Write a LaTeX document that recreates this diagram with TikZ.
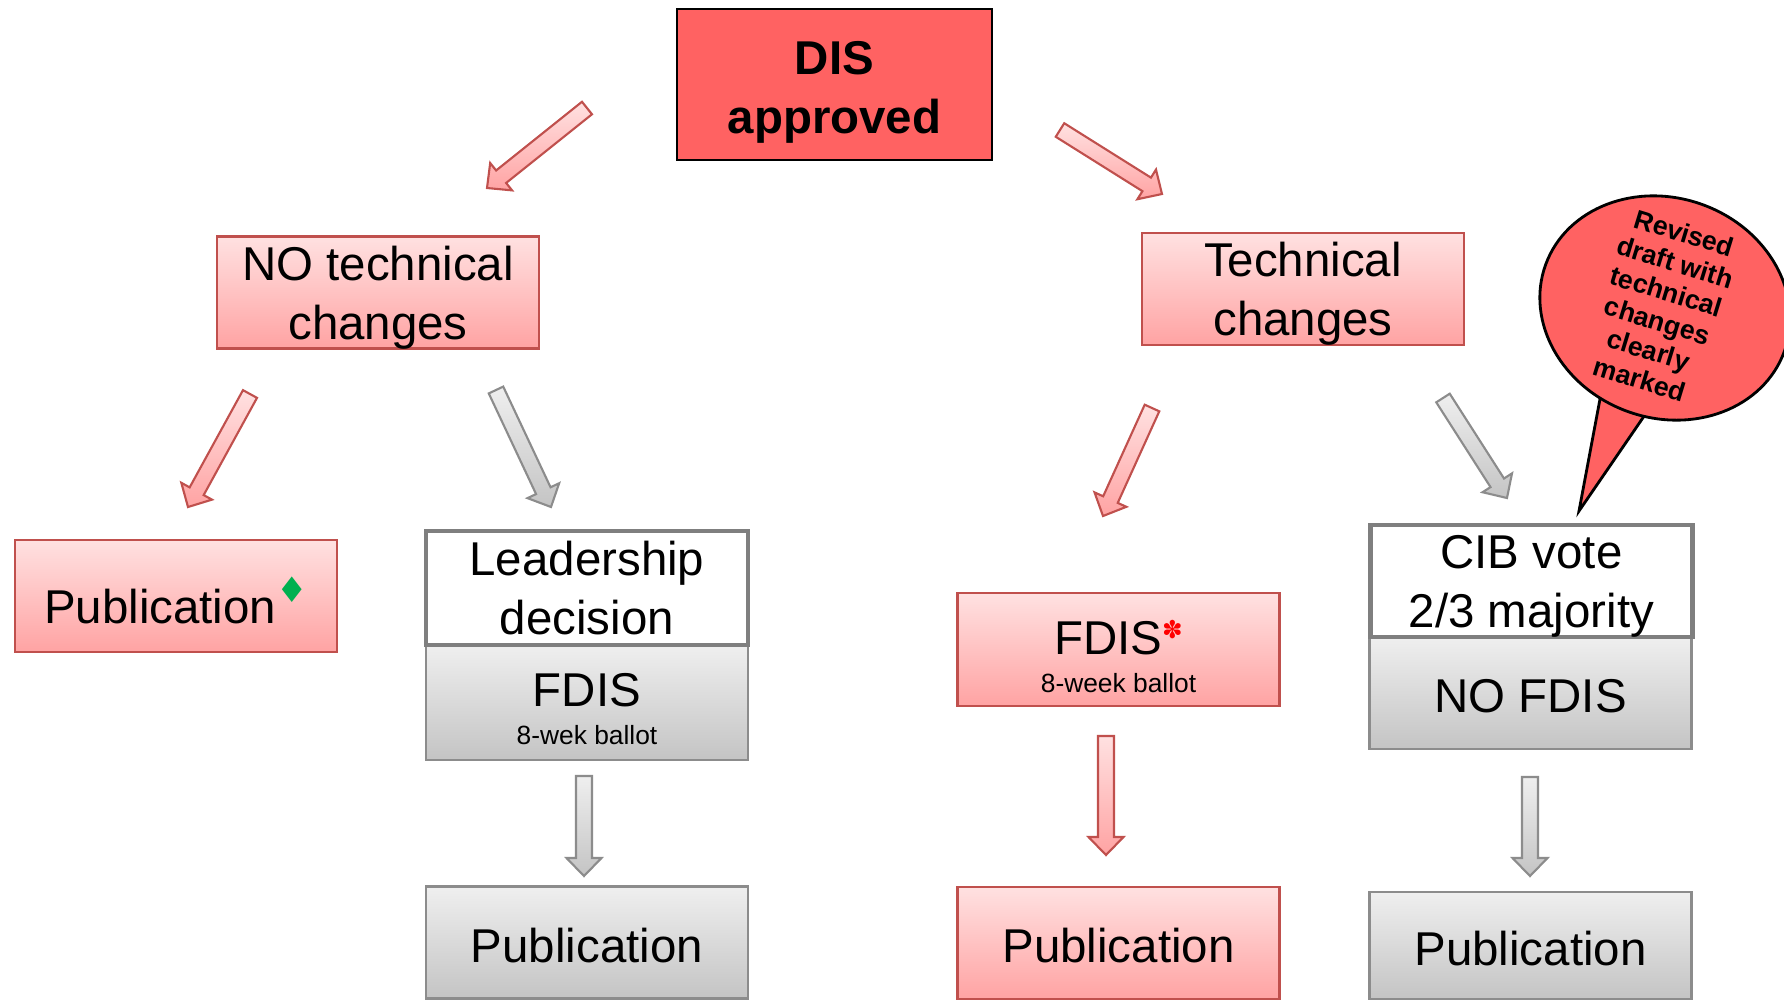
\documentclass[tikz,border=0pt]{standalone}
\usepackage{fontspec}
\setmainfont{Liberation Sans}
\newfontfamily\symfont{DejaVu Sans}
\usetikzlibrary{calc,shapes.geometric}
\definecolor{boxred}{HTML}{C0504D}
\definecolor{redtop}{HTML}{FFE1E1}
\definecolor{redbot}{HTML}{FFA3A3}
\definecolor{grayline}{HTML}{8C8C8C}
\definecolor{graytop}{HTML}{EFEFEF}
\definecolor{graybot}{HTML}{C4C4C4}
\definecolor{disred}{HTML}{FF6262}
\definecolor{framegray}{HTML}{7F7F7F}
\definecolor{diamondgreen}{HTML}{00B050}
\newcommand{\smallline}[1]{{\fontsize{7.5}{9}\selectfont #1}}
\tikzset{
  box/.style={rectangle, minimum width=32.2mm, minimum height=11.2mm, inner sep=0pt,
    align=center, font=\fontsize{13.5}{16.8}\selectfont,
    execute at begin node={\rule{0pt}{#1}}, execute at end node={\rule[-3pt]{0pt}{0pt}}},
  box/.default=14.1pt,
  twoline/.style={text depth=0pt},
  redbox/.style={box=#1, draw=boxred, line width=0.6pt, top color=redtop, bottom color=redbot},
  redbox/.default=14.1pt,
  graybox/.style={box=#1, draw=grayline, line width=0.6pt, top color=graytop, bottom color=graybot},
  graybox/.default=14.1pt,
  framebox/.style={box, draw=framegray, line width=1.3pt, fill=white},
  fatarrow/.style={line width=0.6pt, line join=miter, to path={
    let \p1=(\tikztostart), \p2=(\tikztotarget),
        \n1={atan2(\y2-\y1,\x2-\x1)}, \n2={veclen(\x2-\x1,\y2-\y1)} in
    ([shift={(\p1)},rotate=\n1]0pt,-0.8mm) -- ([shift={(\p1)},rotate=\n1]\n2-1.8mm,-0.8mm)
    -- ([shift={(\p1)},rotate=\n1]\n2-1.8mm,-1.75mm) -- (\p2)
    -- ([shift={(\p1)},rotate=\n1]\n2-1.8mm,1.75mm) -- ([shift={(\p1)},rotate=\n1]\n2-1.8mm,0.8mm)
    -- ([shift={(\p1)},rotate=\n1]0pt,0.8mm) -- cycle}},
  redarrow/.style={fatarrow, draw=boxred, top color=redtop, bottom color=redbot},
  grayarrow/.style={fatarrow, draw=grayline, top color=graytop, bottom color=graybot},
}
\begin{document}
\begin{tikzpicture}[x=0.1mm, y=-0.1mm]
  \path[use as bounding box, fill=white] (0,0) rectangle (1784,1000);

  \node[box, twoline, text height=27.9pt, draw=black, line width=0.8pt, fill=disred,
    minimum width=31.5mm, minimum height=15.1mm,
    font=\fontsize{13.5}{16.8}\selectfont\bfseries] (dis) at (834.5,84.5) {DIS\\approved};

  \node[redbox, twoline] (notech) at (378,292.5) {NO technical\\changes};
  \node[redbox, twoline] (tech) at (1303,289) {Technical\\changes};

  \node[redbox=18.8pt] (pubA) at (176,596)
    {Publication\raisebox{6pt}{\fontsize{10}{10}\symfont\color{diamondgreen}♦}};
  \node[graybox, twoline, text height=23.7pt, minimum height=11.5mm] (fdisA) at (587,702.5)
    {FDIS\\[-6.1pt]\smallline{8-wek ballot}};
  \node[framebox, twoline, minimum height=11.4mm] (lead) at (587,588) {Leadership\\decision};
  \node[graybox] (pubB) at (587,942.5) {Publication};

  \node[redbox, twoline, text height=24.4pt, minimum height=11.3mm] (fdisB) at (1118.5,649.5)
    {FDIS\raisebox{4.5pt}{\fontsize{7}{7}\symfont\color{red}✽}\\[-6.1pt]\smallline{8-week ballot}};
  \node[redbox] (pubC) at (1118.5,943) {Publication};

  \node[graybox] (nofdis) at (1530.5,693) {NO FDIS};
  \node[framebox, twoline] (cib) at (1531.5,581) {CIB vote\\2/3 majority};
  \node[graybox, minimum height=10.7mm] (pubD) at (1530.5,945.5) {Publication};

  \coordinate (a1s) at (587,108);   \coordinate (a1e) at (487,188);
  \coordinate (a2s) at (1060,130);  \coordinate (a2e) at (1162,194);
  \coordinate (a3s) at (250,394);   \coordinate (a3e) at (188,507);
  \coordinate (a4s) at (496,390);   \coordinate (a4e) at (551,507);
  \coordinate (a5s) at (1152,408);  \coordinate (a5e) at (1103,516);
  \coordinate (a6s) at (1443,398);  \coordinate (a6e) at (1507,498);
  \coordinate (a7s) at (584,776);   \coordinate (a7e) at (584,876);
  \coordinate (a8s) at (1106,736);  \coordinate (a8e) at (1106,855);
  \coordinate (a9s) at (1530,777);  \coordinate (a9e) at (1530,876);
  \foreach \a in {a1,a2,a3,a5,a8}{
    \draw[redarrow] (\a s) to (\a e);
  }
  \foreach \a in {a4,a6,a7,a9}{
    \draw[grayarrow] (\a s) to (\a e);
  }

  \coordinate (tip) at (1579,511);
  \filldraw[fill=disred, draw=black, line width=0.8pt] (1606,367) -- (tip) -- (1662,390) -- cycle;
  \node[ellipse, draw=black, line width=0.8pt, fill=disred, minimum width=25.4mm, minimum height=22mm,
    inner sep=0pt, rotate=-20] (bubble) at (1665,308) {};
  \node[rotate=-17, align=center, inner sep=0pt, font=\fontsize{7.6}{8.7}\selectfont\bfseries]
    (bubbletxt) at (1662,306) {Revised\\draft with\\technical\\changes\\clearly\\marked};
\end{tikzpicture}
\end{document}
